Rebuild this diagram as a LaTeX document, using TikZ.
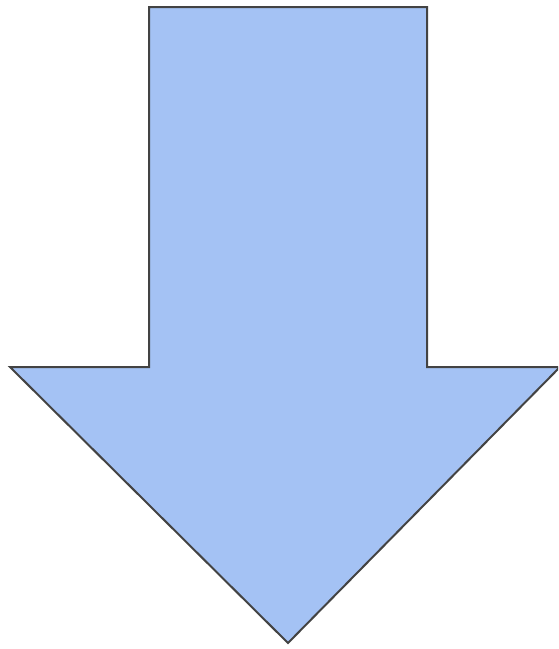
\documentclass[tikz,border=0pt]{standalone}
\definecolor{arrowfill}{HTML}{A4C2F4}
\definecolor{arrowline}{HTML}{434343}
\tikzset{bigarrow/.style={fill=arrowfill,draw=arrowline,line width=2pt,line join=miter}}
\begin{document}
\begin{tikzpicture}[x=1pt,y=-1pt]
\useasboundingbox (0,0) rectangle (558,649);
\begin{scope}
\clip (0,0) rectangle (558,649);
\draw[bigarrow] (149,7) -- (427,7) -- (427,367) -- (560,367) -- (288,643) -- (10,367) -- (149,367) -- cycle;
\end{scope}
\end{tikzpicture}
\end{document}
